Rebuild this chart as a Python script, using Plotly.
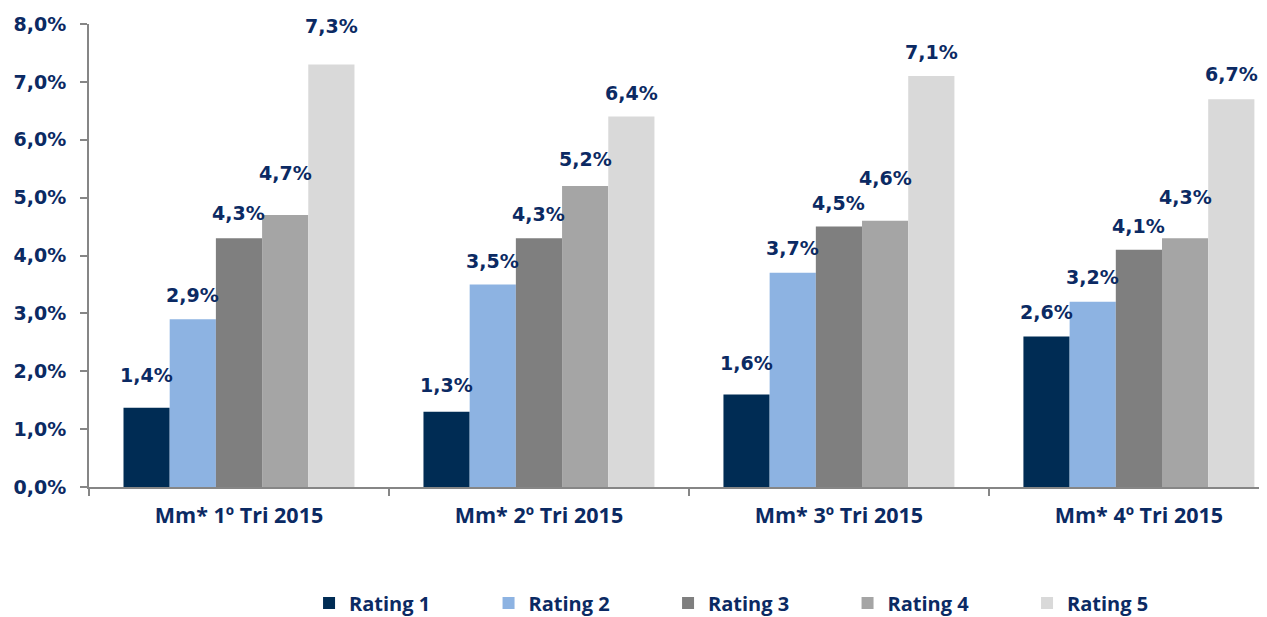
import plotly.graph_objects as go

categories = ["Mm* 1º Tri 2015", "Mm* 2º Tri 2015", "Mm* 3º Tri 2015", "Mm* 4º Tri 2015"]
series_names = ["Rating 1", "Rating 2", "Rating 3", "Rating 4", "Rating 5"]
rating1 = [1.37, 1.3, 1.6, 2.6]
rating2 = [2.9, 3.5, 3.7, 3.2]
rating3 = [4.3, 4.3, 4.5, 4.1]
rating4 = [4.7, 5.2, 4.6, 4.3]
rating5 = [7.3, 6.4, 7.1, 6.7]
y_ticks = [0, 1, 2, 3, 4, 5, 6, 7, 8]

# styling
colors = ["#002c54", "#8db3e2", "#7f7f7f", "#a5a5a5", "#d9d9d9"]
# label lift above bar top (px, to label centre), as placed in the original
label_lift = [[33, 27, 31, 25], [24, 23, 25, 25], [25, 24, 24, 24],
              [42, 27, 43, 41], [39, 24, 24, 25]]

NAVY = "#0b2a63"
W, H = 1259, 609
ML, MR, MT, MB = 81, 0, 15.5, 130
X_RANGE = [-0.5, 3.427]
BARGAP = 0.23

def fmt(v):
    return f"{v:.1f}%".replace(".", ",")

y_ticktext = [fmt(v) for v in y_ticks]
series = [rating1, rating2, rating3, rating4, rating5]

fig = go.Figure()
for name, vals, col in zip(series_names, series, colors):
    fig.add_trace(go.Bar(name=name, x=categories, y=vals,
                         marker=dict(color=col, line=dict(width=0))))

plot_w = W - ML - MR
bar_px = plot_w / (X_RANGE[1] - X_RANGE[0]) * (1 - BARGAP) / len(series)
n = len(series)
for k, vals in enumerate(series):
    for j, v in enumerate(vals):
        fig.add_annotation(x=categories[j], y=v, text=fmt(v), showarrow=False,
                           xshift=(k - (n - 1) / 2) * bar_px, yshift=label_lift[k][j],
                           yanchor="middle", xanchor="center",
                           font=dict(family="DejaVu Sans", size=19, color=NAVY, weight="bold"))

fig.update_layout(
    barmode="group", bargap=BARGAP, bargroupgap=0,
    width=W, height=H,
    margin=dict(l=ML, r=MR, t=MT, b=MB, autoexpand=False),
    paper_bgcolor="white", plot_bgcolor="white",
    showlegend=True,
    legend=dict(orientation="h", x=0.1868, xanchor="left", y=-0.2503, yanchor="middle",
                font=dict(family="Open Sans", size=20, color=NAVY, weight="bold"),
                entrywidth=134.5, entrywidthmode="pixels", itemwidth=30,
                traceorder="normal"),
    font=dict(family="DejaVu Sans", color=NAVY),
)
fig.update_xaxes(
    range=X_RANGE, showline=True, linecolor="#868686", linewidth=2,
    ticks="outside", tickson="boundaries", ticklen=7, tickcolor="#868686", tickwidth=2,
    tickfont=dict(family="Open Sans", size=21.5, color=NAVY, weight="bold"),
    showgrid=False, zeroline=False, automargin=False, ticklabelstandoff=8,
)
fig.update_yaxes(
    range=[0, 8], tickmode="array", tickvals=y_ticks, ticktext=y_ticktext,
    showline=True, linecolor="#868686", linewidth=2,
    ticks="outside", ticklen=7, tickcolor="#868686", tickwidth=2,
    tickfont=dict(family="DejaVu Sans", size=19, color=NAVY, weight="bold"),
    showgrid=False, zeroline=False, ticklabelstandoff=10, automargin=False,
)
fig.write_html("out.html")
